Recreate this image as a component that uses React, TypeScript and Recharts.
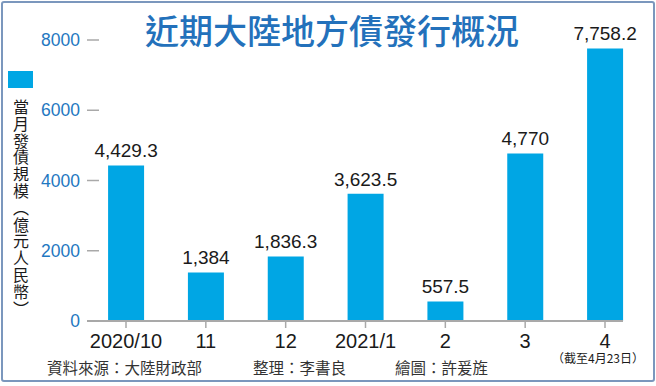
import React from 'react';
import { BarChart, Bar, XAxis, YAxis, LabelList } from 'recharts';

const months = ['2020/10', '11', '12', '2021/1', '2', '3', '4'];
const issuance = [4429.3, 1384, 1836.3, 3623.5, 557.5, 4770, 7758.2];
const valueLabels = ['4,429.3', '1,384', '1,836.3', '3,623.5', '557.5', '4,770', '7,758.2'];
const subLabels = ['', '', '', '', '', '', '（截至4月23日）'];
const yTicks = [0, 2000, 4000, 6000, 8000];

const data = months.map((m, i) => ({
  month: m,
  value: issuance[i],
  label: valueLabels[i],
}));

const BAR_COLOR = '#00a6e4';
const BLUE_TEXT = '#1f78c1';
const GRAY = '#a9a9a9';
const NUM_FONT = '"Liberation Sans", Arial, sans-serif';
const CJK_FONT = '"Noto Sans CJK TC", "Noto Sans CJK SC", sans-serif';

// month label, plus the small note under the last one, in one text element
const MonthTick = (props: any) => {
  const { x, y, payload, index } = props;
  const sub = subLabels[index];
  return (
    <text x={x} y={y} textAnchor='middle' fill='#1a1a1a'>
      <tspan x={x} dy='0.71em' fontSize={20} fontFamily={NUM_FONT}>
        {payload.value}
      </tspan>
      {sub ? (
        <tspan x={x - 7} dy={15} fontSize={12} fontFamily={CJK_FONT}>
          {sub}
        </tspan>
      ) : null}
    </text>
  );
};

const App: React.FC = () => {
  return (
    <div
      style={{
        position: 'absolute',
        left: 0,
        top: 0,
        width: 656,
        height: 386,
        background: '#fff',
        overflow: 'hidden',
      }}
    >
      <div
        style={{
          position: 'absolute',
          left: 1,
          top: 1,
          width: 654,
          height: 381,
          boxSizing: 'border-box',
          border: '2px solid #7b97bd',
          borderRadius: 3,
        }}
      />
      <div
        style={{
          position: 'absolute',
          left: 0,
          width: 664,
          top: 10,
          textAlign: 'center',
          fontFamily: CJK_FONT,
          fontSize: 34,
          fontWeight: 500,
          color: '#2371bb',
          lineHeight: '40px',
        }}
      >
        近期大陸地方債發行概況
      </div>
      <div
        style={{
          position: 'absolute',
          left: 8,
          top: 71,
          width: 25,
          height: 17,
          background: BAR_COLOR,
        }}
      />
      <div
        style={{
          position: 'absolute',
          left: 11,
          top: 99,
          width: 20,
          writingMode: 'vertical-rl',
          fontFamily: CJK_FONT,
          fontSize: 16,
          letterSpacing: '0.8px',
          lineHeight: '20px',
          color: '#1a1a1a',
        }}
      >
        當月發債規模（億元人民幣）
      </div>
      <BarChart
        width={656}
        height={386}
        data={data}
        margin={{ top: 40, right: 33, bottom: 35, left: 0 }}
        style={{ position: 'absolute', left: 0, top: 0 }}
      >
        <XAxis
          dataKey='month'
          scale='point'
          padding={{ left: 39, right: 18 }}
          height={30}
          axisLine={{ stroke: GRAY, strokeWidth: 2 }}
          tickLine={{ stroke: GRAY, strokeWidth: 1.5 }}
          tickSize={7}
          tickMargin={6}
          tick={<MonthTick />}
          interval={0}
        />
        <YAxis
          width={87}
          domain={[0, 8000]}
          ticks={yTicks}
          axisLine={false}
          tickLine={{ stroke: GRAY, strokeWidth: 1.5 }}
          tickSize={-12}
          tickMargin={19}
          tick={{ fill: BLUE_TEXT, fontSize: 17.5, fontFamily: NUM_FONT }}
        />
        <Bar dataKey='value' fill={BAR_COLOR} barSize={36} isAnimationActive={false}>
          <LabelList
            dataKey='label'
            position='top'
            offset={8}
            fill='#1a1a1a'
            fontSize={19}
            fontFamily={NUM_FONT}
          />
        </Bar>
      </BarChart>
      <div
        style={{
          position: 'absolute',
          top: 358,
          left: 0,
          width: 656,
          fontFamily: CJK_FONT,
          fontSize: 15.5,
          lineHeight: '18px',
          color: '#333',
        }}
      >
        <span style={{ position: 'absolute', left: 47 }}>資料來源：大陸財政部</span>
        <span style={{ position: 'absolute', left: 253 }}>整理：李書良</span>
        <span style={{ position: 'absolute', left: 395 }}>繪圖：許爰旌</span>
      </div>
    </div>
  );
};

export default App;
